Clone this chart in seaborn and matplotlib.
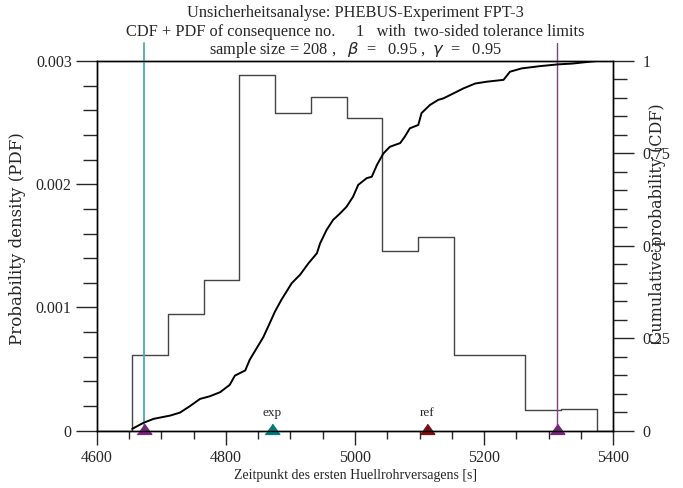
import matplotlib
matplotlib.use("Agg")
import matplotlib.pyplot as plt
import matplotlib.transforms as mtransforms
from matplotlib.ticker import MultipleLocator, FuncFormatter
import numpy as np
import pandas as pd
import seaborn as sns

# --- histogram of the 208 sample values (PDF) ---
bin_edges = [4655, 4710, 4766, 4821, 4876, 4932, 4987, 5042,
             5098, 5153, 5208, 5263, 5319, 5374]
bin_counts = [7, 11, 14, 33, 30, 31, 29, 17, 18, 7, 7, 2, 2]

# --- empirical cumulative distribution (CDF) ---
cdf_x = [4655, 4672, 4688, 4714, 4729, 4744, 4760, 4775, 4791, 4806,
         4814, 4830, 4837, 4848, 4858, 4868, 4876, 4886, 4902, 4915,
         4928, 4941, 4946, 4956, 4966, 4977, 4987, 4997, 5005, 5018,
         5026, 5034, 5044, 5054, 5070, 5077, 5085, 5098, 5103, 5116,
         5129, 5137, 5152, 5168, 5186, 5204, 5230, 5240, 5258, 5286,
         5315, 5336, 5374]
cdf_p = [0.005, 0.021, 0.032, 0.041, 0.049, 0.066, 0.086, 0.093, 0.104, 0.124,
         0.149, 0.163, 0.192, 0.224, 0.253, 0.291, 0.322, 0.354, 0.399, 0.422,
         0.453, 0.480, 0.507, 0.543, 0.570, 0.588, 0.606, 0.633, 0.665, 0.683,
         0.687, 0.719, 0.750, 0.768, 0.778, 0.795, 0.818, 0.827, 0.859, 0.881,
         0.895, 0.899, 0.912, 0.926, 0.939, 0.944, 0.949, 0.971, 0.980, 0.986,
         0.991, 0.993, 1.000]

# --- tolerance limits and reference markers ---
tol_lower = 4673
tol_upper = 5313
marker_labels = ["", "exp", "ref", ""]
marker_x = [4673, 4871, 5111, 5313]
marker_colors = ["#73287a", "#007a7a", "#7a1010", "#73287a"]

x_ticks = [4600, 4800, 5000, 5200, 5400]
pdf_ticks = [0, 0.001, 0.002, 0.003]
cdf_ticks = [0, 0.25, 0.5, 0.75, 1]

sns.set_style("ticks")
plt.rcParams["font.family"] = ["Liberation Serif", "DejaVu Serif"]
plt.rcParams["mathtext.fontset"] = "dejavusans"

W, H = 683, 488
fig = plt.figure(figsize=(W / 100, H / 100), dpi=100)
ax = fig.add_axes([96.7 / W, 57.3 / H, 516.6 / W, 369.7 / H])
ax2 = ax.twinx()

# empty bins on both sides so the outline closes down to zero
width = bin_edges[1] - bin_edges[0]
edges = [bin_edges[0] - width] + bin_edges + [bin_edges[-1] + width]
counts = [0] + bin_counts + [0]
centers = [(a + b) / 2 for a, b in zip(edges[:-1], edges[1:])]
hist_df = pd.DataFrame({"t": centers, "n": counts})
sns.histplot(data=hist_df, x="t", weights="n", bins=edges, stat="density",
             element="step", fill=False, color="#444444", linewidth=1.0, ax=ax)

cdf_df = pd.DataFrame({"t": cdf_x, "p": cdf_p})
sns.lineplot(data=cdf_df, x="t", y="p", color="black", linewidth=1.4,
             estimator=None, sort=False, ax=ax2)

ax.set_xlim(4600, 5400)
ax.set_ylim(0, 0.003)
ax2.set_ylim(0, 1)

# tolerance limit lines, reaching up into the title block
trans = mtransforms.blended_transform_factory(ax.transData, ax.transAxes)
ax.plot([tol_lower, tol_lower], [0, 1.048], color="#4aaeae", lw=1.3,
        transform=trans, clip_on=False, zorder=5)
ax.plot([tol_upper, tol_upper], [0, 1.048], color="#804086", lw=1.0,
        transform=trans, clip_on=False, zorder=5)

tri = [(-1, -0.4), (1, -0.4), (0, 1.0)]
for lab, xv, col in zip(marker_labels, marker_x, marker_colors):
    ax.plot([xv], [0], linestyle="none", marker=tri, markersize=10.5,
            color=col, markeredgecolor=col, clip_on=False, zorder=6)
    if lab:
        ax.annotate(lab, (xv, 0), xytext=(0, 13), textcoords="offset points",
                    ha="center", va="center", fontsize=9.5)

# axes, ticks and labels
ax.set_xticks(x_ticks)
ax.xaxis.set_minor_locator(MultipleLocator(50))
ax.set_yticks(pdf_ticks)
ax.yaxis.set_minor_locator(MultipleLocator(0.0002))
ax.yaxis.set_major_formatter(FuncFormatter(lambda v, p: "%g" % v))
ax2.set_yticks(cdf_ticks)
ax2.yaxis.set_minor_locator(MultipleLocator(0.05))
ax2.yaxis.set_major_formatter(FuncFormatter(lambda v, p: "%g" % v))

ax.tick_params(axis="x", which="major", direction="out", length=10, width=1,
               labelsize=11.5, pad=4, top=False)
ax.tick_params(axis="x", which="minor", direction="out", length=6, width=1, top=False)
ax.tick_params(axis="y", which="major", direction="out", length=15, width=1,
               labelsize=11.5, pad=3, right=False)
ax.tick_params(axis="y", which="minor", direction="out", length=10, width=1, right=False)
ax2.tick_params(axis="y", which="major", direction="out", length=15, width=1,
                labelsize=11.5, pad=6)
ax2.tick_params(axis="y", which="minor", direction="out", length=10, width=1)

for a in (ax, ax2):
    for s in a.spines.values():
        s.set_visible(True)
        s.set_color("black")
        s.set_linewidth(1.0)

ax.set_xlabel("Zeitpunkt des ersten Huellrohrversagens [s]", fontsize=10)
ax.xaxis.set_label_coords(0.5, -0.103)
ax.set_ylabel("Probability density (PDF)", fontsize=12,
              family=["DejaVu Serif"])
ax.yaxis.set_label_coords(-0.137, 0.52)
ax2.set_ylabel("Cumulative probability (CDF)", fontsize=11.5,
               family=["DejaVu Serif"])
ax2.yaxis.set_label_coords(1.069, 0.56)

cx = 355 / W
fig.text(cx, 1 - 13 / H, "Unsicherheitsanalyse: PHEBUS-Experiment FPT-3",
         ha="center", va="center", fontsize=11.8)
fig.text(cx, 1 - 32 / H,
         "CDF + PDF of consequence no.     1   with  two-sided tolerance limits",
         ha="center", va="center", fontsize=11.8)
fig.text(cx, 1 - 50 / H,
         r"sample size = 208 ,   $\beta$  =   0.95 ,  $\gamma$  =   0.95",
         ha="center", va="center", fontsize=11.8)

fig.savefig("out.png", dpi=100)
